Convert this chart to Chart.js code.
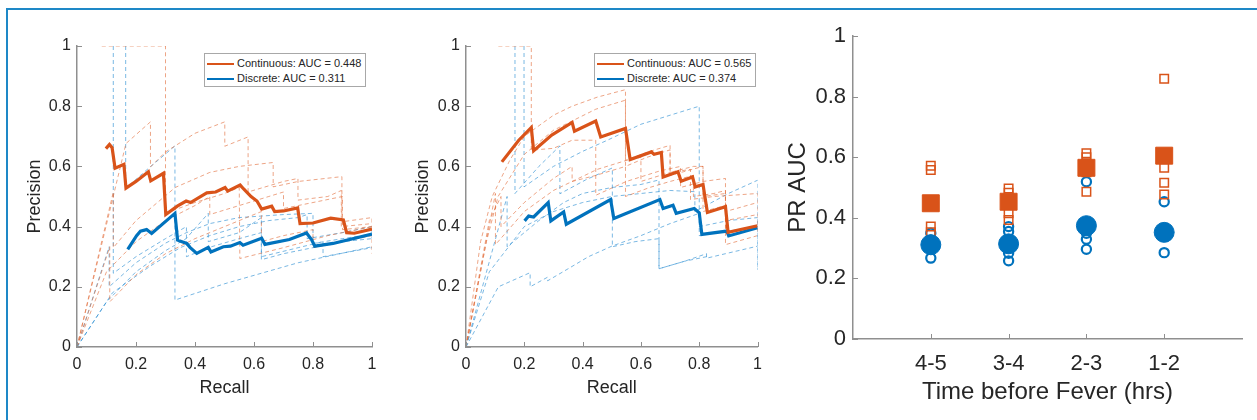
<!DOCTYPE html>
<html>
<head>
<meta charset="utf-8">
<script src="https://cdn.jsdelivr.net/npm/chart.js@4.4.1/dist/chart.umd.min.js"></script>
<style>
  html, body { margin: 0; padding: 0; background: #fff; }
  body { width: 1257px; height: 420px; position: relative; overflow: hidden; font-family: "Liberation Sans", Arial, sans-serif; }
  .frame { position: absolute; left: 6px; top: 8px; right: -4px; bottom: -4px; border-top: 2px solid #1e88c7; border-left: 2px solid #1e88c7; }
  canvas { position: absolute; top: 0; }
  .legend { position: absolute; box-sizing: border-box; height: 34px; padding-top: 2px; background: #fff; border: 1px solid #a8a8a8; font-size: 11px; color: #262626; }
  .legend div { height: 15px; line-height: 15px; white-space: nowrap; }
  .legend span { display: inline-block; width: 27px; height: 2px; margin: 0 3px 0 2px; vertical-align: middle; }
</style>
</head>
<body>
<div class="frame"></div>
<canvas id="prA" width="420" height="420" style="left:0"></canvas>
<canvas id="prB" width="370" height="420" style="left:400px"></canvas>
<canvas id="auc" width="487" height="420" style="left:770px"></canvas>
<div class="legend" id="legA" style="left:204px; top:53px; width:162px"></div>
<div class="legend" id="legB" style="left:594px; top:53px; width:162px"></div>

<script>
// #region data

var ORANGE = '#D95319';
var BLUE = '#0072BD';
var ORANGE_FOLD = 'rgba(226,110,60,0.62)';
var BLUE_FOLD = 'rgba(40,140,210,0.62)';

// panel A - mean curves [recall, precision]
var aucA = { cont: '0.448', disc: '0.311' };
var meanContA = [[0.098,0.659],[0.110,0.673],[0.119,0.662],[0.129,0.594],[0.159,0.607],[0.166,0.528],[0.20,0.55],[0.242,0.582],[0.250,0.552],[0.293,0.577],[0.301,0.440],[0.34,0.468],[0.37,0.485],[0.385,0.480],[0.44,0.512],[0.47,0.515],[0.502,0.530],[0.511,0.518],[0.553,0.538],[0.565,0.525],[0.59,0.500],[0.61,0.485],[0.626,0.458],[0.66,0.468],[0.67,0.450],[0.70,0.452],[0.748,0.462],[0.756,0.410],[0.80,0.412],[0.86,0.428],[0.903,0.422],[0.914,0.380],[0.94,0.378],[1.0,0.392]];
var meanDiscA = [[0.172,0.324],[0.202,0.370],[0.215,0.385],[0.236,0.390],[0.253,0.377],[0.332,0.444],[0.341,0.355],[0.372,0.344],[0.383,0.331],[0.406,0.311],[0.445,0.331],[0.454,0.316],[0.496,0.333],[0.52,0.335],[0.552,0.347],[0.563,0.338],[0.626,0.361],[0.637,0.341],[0.72,0.357],[0.778,0.379],[0.795,0.357],[0.806,0.335],[0.868,0.344],[1.0,0.375]];

// panel A - single folds
var foldsContA = [
  [[0.084,1],[0.30,1],[0.30,0.445],[0.40,0.48],[0.50,0.51],[0.55,0.53],[0.552,0.294],[0.70,0.33],[0.85,0.37],[1,0.40]],
  [[0,0],[0.166,0.676],[0.249,0.748],[0.249,0.598],[0.30,0.648],[0.40,0.71],[0.501,0.748],[0.501,0.667],[0.58,0.698],[0.58,0.515],[0.70,0.55],[0.749,0.56],[0.749,0.488],[0.85,0.50],[0.896,0.52],[0.896,0.40],[1,0.41]],
  [[0,0],[0.123,0.515],[0.123,0.33],[0.2,0.42],[0.333,0.53],[0.45,0.58],[0.55,0.60],[0.665,0.613],[0.665,0.532],[0.75,0.55],[0.898,0.566],[0.898,0.416],[1,0.43],[1,0.38]],
  [[0,0],[0.111,0.333],[0.111,0.15],[0.2,0.24],[0.3,0.31],[0.4,0.36],[0.5,0.40],[0.6,0.44],[0.625,0.45],[0.625,0.35],[0.70,0.37],[0.80,0.39],[0.80,0.33],[0.9,0.35],[1,0.37],[1,0.31]],
  [[0,0],[0.1,0.25],[0.2,0.35],[0.3,0.42],[0.4,0.47],[0.45,0.50],[0.45,0.44],[0.55,0.47],[0.65,0.50],[0.70,0.515],[0.70,0.46],[0.80,0.48],[0.90,0.50],[0.90,0.39],[1,0.40]]
];
var foldsDiscA = [
  [[0.123,1],[0.123,0.245],[0.2,0.30],[0.3,0.36],[0.371,0.40],[0.371,0.30],[0.445,0.33],[0.55,0.36],[0.625,0.38],[0.625,0.30],[0.75,0.33],[0.834,0.35],[0.834,0.30],[1,0.33]],
  [[0.165,1],[0.165,0.527],[0.25,0.60],[0.332,0.668],[0.332,0.156],[0.5,0.21],[0.75,0.28],[1,0.333]],
  [[0,0],[0.109,0.333],[0.109,0.20],[0.2,0.28],[0.3,0.345],[0.371,0.38],[0.45,0.41],[0.55,0.43],[0.70,0.44],[0.80,0.444],[0.80,0.344],[0.9,0.36],[1,0.375]],
  [[0,0],[0.1,0.15],[0.2,0.25],[0.3,0.32],[0.37,0.36],[0.445,0.444],[0.445,0.35],[0.55,0.38],[0.625,0.43],[0.625,0.29],[0.70,0.31],[0.80,0.33],[0.9,0.35],[1,0.36]],
  [[0,0],[0.12,0.18],[0.25,0.27],[0.35,0.33],[0.45,0.37],[0.55,0.40],[0.65,0.42],[0.75,0.43],[0.78,0.44],[0.78,0.36],[0.90,0.38],[1,0.40],[1,0.36]]
];

// panel B - mean curves
var aucB = { cont: '0.565', disc: '0.374' };
var meanContB = [[0.123,0.615],[0.181,0.687],[0.224,0.729],[0.232,0.652],[0.294,0.704],[0.364,0.746],[0.372,0.717],[0.445,0.751],[0.462,0.698],[0.547,0.726],[0.563,0.623],[0.636,0.648],[0.645,0.640],[0.670,0.646],[0.676,0.565],[0.727,0.582],[0.738,0.551],[0.777,0.565],[0.786,0.532],[0.813,0.540],[0.828,0.447],[0.890,0.466],[0.899,0.381],[1.0,0.403]];
var meanDiscB = [[0.201,0.419],[0.215,0.435],[0.232,0.432],[0.282,0.480],[0.291,0.419],[0.335,0.449],[0.344,0.408],[0.496,0.490],[0.507,0.427],[0.665,0.490],[0.676,0.460],[0.71,0.471],[0.721,0.444],[0.783,0.460],[0.80,0.446],[0.809,0.374],[0.895,0.385],[0.901,0.369],[1.0,0.396]];

// panel B - single folds
var foldsContB = [
  [[0,0],[0.05,0.35],[0.09,0.5],[0.15,0.62],[0.2,0.70],[0.3,0.77],[0.364,0.80],[0.45,0.83],[0.547,0.855],[0.547,0.60],[0.62,0.63],[0.70,0.655],[0.70,0.58],[0.78,0.60],[0.813,0.60],[0.813,0.45],[0.89,0.47],[0.89,0.38],[1,0.40]],
  [[0,0],[0.07,0.35],[0.11,0.50],[0.2,0.64],[0.3,0.72],[0.445,0.79],[0.547,0.82],[0.547,0.62],[0.63,0.65],[0.70,0.67],[0.70,0.57],[0.813,0.60],[0.813,0.50],[0.89,0.51],[0.89,0.45],[1,0.48]],
  [[0.111,1],[0.224,1],[0.224,0.654],[0.3,0.66],[0.364,0.687],[0.445,0.687],[0.445,0.504],[0.55,0.55],[0.665,0.585],[0.736,0.60],[0.736,0.53],[0.813,0.55],[0.89,0.56],[0.89,0.42],[1,0.44]],
  [[0,0],[0.101,0.51],[0.101,0.34],[0.2,0.45],[0.3,0.52],[0.364,0.55],[0.445,0.57],[0.547,0.60],[0.547,0.50],[0.63,0.53],[0.70,0.55],[0.78,0.57],[0.78,0.50],[0.85,0.51],[0.89,0.52],[0.89,0.34],[1,0.37]],
  [[0,0],[0.08,0.42],[0.12,0.50],[0.12,0.40],[0.2,0.48],[0.3,0.56],[0.364,0.60],[0.364,0.55],[0.45,0.59],[0.55,0.62],[0.6,0.63],[0.6,0.55],[0.7,0.58],[0.77,0.59],[0.77,0.49],[0.85,0.50],[1,0.51],[1,0.38]]
];
var foldsDiscB = [
  [[0.168,1],[0.168,0.51],[0.25,0.60],[0.322,0.668],[0.322,0.509],[0.41,0.555],[0.502,0.595],[0.502,0.333],[0.58,0.35],[0.662,0.36],[0.662,0.26],[0.75,0.285],[0.825,0.31],[0.825,0.295],[0.89,0.31],[1,0.335]],
  [[0,0],[0.111,0.20],[0.22,0.247],[0.22,0.20],[0.28,0.232],[0.28,0.22],[0.333,0.25],[0.42,0.30],[0.5,0.335],[0.6,0.37],[0.7,0.41],[0.8,0.444],[0.8,0.37],[0.9,0.385],[1,0.40]],
  [[0.199,1],[0.199,0.532],[0.30,0.60],[0.40,0.65],[0.485,0.687],[0.6,0.74],[0.70,0.77],[0.80,0.80],[0.80,0.40],[0.9,0.42],[1,0.43],[1,0.256]],
  [[0,0],[0.141,0.50],[0.141,0.333],[0.25,0.42],[0.335,0.48],[0.4,0.51],[0.5,0.53],[0.6,0.54],[0.662,0.555],[0.662,0.26],[0.75,0.285],[0.825,0.30]],
  [[0,0],[0.08,0.25],[0.2,0.40],[0.3,0.45],[0.4,0.48],[0.5,0.50],[0.6,0.51],[0.7,0.52],[0.785,0.516],[0.785,0.45],[0.9,0.51],[1,0.554],[1,0.256]]
];

// panel C - PR AUC per time window
var timeLabels = ['4-5', '3-4', '2-3', '1-2'];
var contMeanAuc = [0.448, 0.453, 0.565, 0.605];
var discMeanAuc = [0.311, 0.314, 0.374, 0.352];
var contFoldAuc = [
  [0.572, 0.558, 0.371, 0.352, 0.44],
  [0.497, 0.483, 0.415, 0.393, 0.45],
  [0.613, 0.600, 0.580, 0.486, 0.55],
  [0.859, 0.565, 0.516, 0.477, 0.60]
];
var discFoldAuc = [
  [0.349, 0.327, 0.300, 0.267, 0.31],
  [0.371, 0.355, 0.300, 0.283, 0.258],
  [0.519, 0.349, 0.329, 0.296, 0.37],
  [0.453, 0.360, 0.340, 0.285, 0.35]
];

// #endregion data

// #region helpers

var FONT = '"Liberation Sans", Arial, sans-serif';
var TXT = '#262626';
var AXIS = '#8f8f8f';

function toPts(arr) {
    return arr.map(function (p) { return { x: p[0], y: p[1] }; });
}

function lineDs(arr, color, width, dashed) {
    return {
        data: toPts(arr),
        showLine: true,
        borderColor: color,
        borderWidth: width,
        borderDash: dashed ? [4, 3] : [],
        pointRadius: 0,
        fill: false,
        tension: 0
    };
}

// MATLAB style ticks pointing into the plot
var inwardTicks = {
    id: 'inwardTicks',
    afterDraw: function (chart, args, opts) {
        var ctx = chart.ctx, xs = chart.scales.x, ys = chart.scales.y, len = opts.length || 5;
        ctx.save();
        ctx.strokeStyle = AXIS;
        ctx.lineWidth = 1;
        xs.ticks.forEach(function (t) {
            var px = Math.round(xs.getPixelForValue(t.value)) + 0.5;
            ctx.beginPath(); ctx.moveTo(px, ys.bottom); ctx.lineTo(px, ys.bottom - len); ctx.stroke();
        });
        ys.ticks.forEach(function (t) {
            var py = Math.round(ys.getPixelForValue(t.value)) + 0.5;
            ctx.beginPath(); ctx.moveTo(xs.left, py); ctx.lineTo(xs.left + len, py); ctx.stroke();
        });
        ctx.restore();
    }
};

function axis(o) {
    return {
        type: 'linear',
        min: o.min, max: o.max,
        afterBuildTicks: o.ticks ? function (s) { s.ticks = o.ticks.map(function (v) { return { value: v }; }); } : undefined,
        afterFit: function (s) { if (o.width) s.width = o.width; if (o.height) s.height = o.height; },
        grid: { display: false, drawTicks: false },
        border: { display: true, color: AXIS, width: 1.5 },
        ticks: {
            stepSize: o.step,
            padding: o.tickPad,
            color: TXT,
            font: { family: FONT, size: o.tickSize },
            callback: o.labels || function (v) { return Math.round(v * 10) / 10; }
        },
        title: {
            display: true,
            text: o.title,
            color: TXT,
            font: { family: FONT, size: o.titleSize },
            padding: o.titlePad
        }
    };
}

function baseOptions(pad, x, y) {
    return {
        responsive: false,
        animation: false,
        devicePixelRatio: 1,
        layout: { padding: pad },
        plugins: { legend: { display: false }, tooltip: { enabled: false }, inwardTicks: { length: 5 } },
        scales: { x: x, y: y }
    };
}

function legendHtml(id, auc) {
    document.getElementById(id).innerHTML =
        '<div><span style="background:' + ORANGE + '"></span>Continuous: AUC = ' + auc.cont + '</div>' +
        '<div><span style="background:' + BLUE + '"></span>Discrete: AUC = ' + auc.disc + '</div>';
}

// #endregion helpers

// #region charts

function loadPrChart(id, meanCont, meanDisc, foldsCont, foldsDisc, yWidth, rightPad, yTitlePad) {
    var datasets = [lineDs(meanCont, ORANGE, 3.2, false), lineDs(meanDisc, BLUE, 3.2, false)];
    foldsCont.forEach(function (f) { datasets.push(lineDs(f, ORANGE_FOLD, 1, true)); });
    foldsDisc.forEach(function (f) { datasets.push(lineDs(f, BLUE_FOLD, 1, true)); });

    var x = axis({ min: 0, max: 1, step: 0.2, tickPad: 8, tickSize: 16, title: 'Recall', titleSize: 18, titlePad: { top: 0, bottom: 21 }, height: 73 });
    var y = axis({ min: 0, max: 1, step: 0.2, tickPad: 6, tickSize: 16, title: 'Precision', titleSize: 18, titlePad: { top: yTitlePad, bottom: 0 }, width: yWidth });

    return new Chart(document.getElementById(id), {
        type: 'scatter',
        data: { datasets: datasets },
        options: baseOptions({ top: 46, right: rightPad, bottom: 0, left: 0 }, x, y),
        plugins: [inwardTicks]
    });
}

function markerDs(values, style, radius, filled, color, bw) {
    var pts = [];
    values.forEach(function (v, i) {
        [].concat(v).forEach(function (val) { pts.push({ x: i + 1, y: val }); });
    });
    return {
        data: pts,
        pointStyle: style,
        pointRadius: radius,
        pointBorderWidth: bw,
        pointBorderColor: color,
        pointBackgroundColor: filled ? color : 'rgba(0,0,0,0)',
        showLine: false
    };
}

function loadAucChart() {
    var datasets = [
        markerDs(contMeanAuc, 'rect', 12, true, ORANGE, 1),
        markerDs(discMeanAuc, 'circle', 10, true, BLUE, 1),
        markerDs(contFoldAuc, 'rect', 6, false, ORANGE, 1.5),
        markerDs(discFoldAuc, 'circle', 4.6, false, BLUE, 2.2)
    ];

    var x = axis({
        min: 0, max: 5, ticks: [1, 2, 3, 4], tickPad: 12, tickSize: 22,
        labels: function (v) { return timeLabels[v - 1] || ''; },
        title: 'Time before Fever (hrs)', titleSize: 24, titlePad: { top: 0, bottom: 13 }, height: 81
    });
    var y = axis({ min: 0, max: 1, step: 0.2, tickPad: 7, tickSize: 22, title: 'PR AUC', titleSize: 24, titlePad: { top: 14, bottom: 0 }, width: 83 });

    return new Chart(document.getElementById('auc'), {
        type: 'scatter',
        data: { datasets: datasets },
        options: baseOptions({ top: 36, right: 15, bottom: 0, left: 0 }, x, y),
        plugins: [inwardTicks]
    });
}

// #endregion charts

loadPrChart('prA', meanContA, meanDiscA, foldsContA, foldsDiscA, 77, 48, 24);
loadPrChart('prB', meanContB, meanDiscB, foldsContB, foldsDiscB, 66, 7, 12);
loadAucChart();
legendHtml('legA', aucA);
legendHtml('legB', aucB);
</script>
</body>
</html>
